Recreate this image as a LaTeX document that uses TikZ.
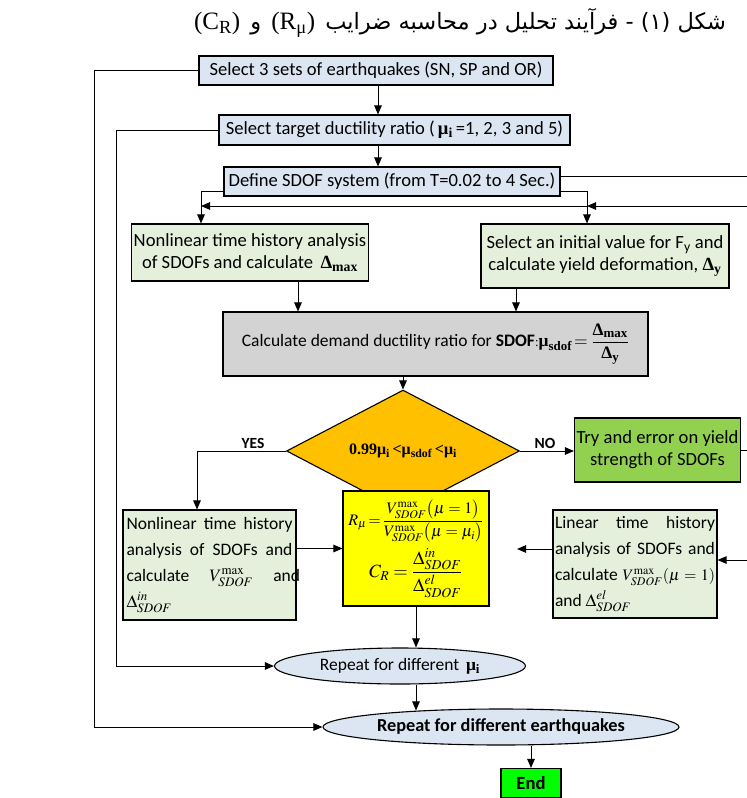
\documentclass[tikz,border=0pt]{standalone}
\usepackage{amsmath}
\usepackage{mathptmx}
\usepackage[no-math]{fontspec}
\setmainfont{Carlito}
\newfontfamily\tnr{Liberation Serif}
\newfontfamily\arabicfont[Script=Arabic]{DejaVu Sans}
\TeXXeTstate=1
\usetikzlibrary{shapes.geometric,arrows.meta,calc}
\definecolor{cblue}{HTML}{DCE6F2}
\definecolor{cgreen}{HTML}{E4EFDC}
\definecolor{cgray}{HTML}{D3D3D3}
\definecolor{corange}{HTML}{FFC000}
\definecolor{ctry}{HTML}{92D050}
\definecolor{cyel}{HTML}{FFFF00}
\definecolor{cend}{HTML}{00FF00}
\newcommand\bmu[1]{{\tnr\bfseries μ\textsubscript{#1}}}
\newcommand\dmax{{\tnr\bfseries Δ\textsubscript{max}}}
\newcommand\dyy{{\tnr\bfseries Δ\textsubscript{y}}}
\begin{document}
\begin{tikzpicture}[x=1pt,y=-1pt,
  box/.style={draw=black, line width=1.1pt, inner sep=2pt, align=center,
    font=\fontsize{18.6}{22}\selectfont},
  bluebox/.style={box, fill=cblue},
  greenbox/.style={box, fill=cgreen},
  ell/.style={ellipse, draw=black, line width=1.1pt, fill=cblue, inner sep=0pt,
    font=\fontsize{18.3}{22}\selectfont},
  dia/.style={diamond, draw=black, line width=1.1pt, fill=corange, inner sep=0pt,
    minimum width=233, minimum height=57},
  arr/.style={line width=1pt, -{Triangle[length=9pt,width=7.5pt]}},
  ln/.style={line width=1pt},
  lbl/.style={inner sep=1pt, font=\fontsize{15.5}{18}\selectfont\bfseries}]
\useasboundingbox (0,0) rectangle (747,798);
% title
\node (title) at (460,23) {\fontsize{22.5}{26}\selectfont
  {\tnr\fontsize{25}{27}\selectfont (C\textsubscript{R})}\ \ {\arabicfont\beginR و\endR}\ \ {\tnr\fontsize{25}{27}\selectfont (R\textsubscript{μ})}\ \ {\arabicfont\beginR شکل \beginL(۱)\endL{} - فرآیند تحلیل در محاسبه ضرایب\endR}};
% nodes
\node[bluebox, minimum width=354, minimum height=29] (b1) at (376,70.5) {Select 3 sets of earthquakes (SN, SP and OR)};
\node[bluebox, minimum width=351, minimum height=30] (b2) at (394.5,130) {Select target ductility ratio (\,\bmu{i}\,=1, 2, 3 and 5)};
\node[bluebox, minimum width=336, minimum height=29] (b3) at (392,181.5) {Define SDOF system (from T=0.02 to 4 Sec.)};
\node[greenbox, minimum width=234, minimum height=57] (n1) at (250,252.5) {Nonlinear time history analysis\\ of SDOFs and calculate \,\dmax};
\node[greenbox, minimum width=248, minimum height=64] (s1) at (605,256) {Select an initial value for F\textsubscript{y} and\\ calculate yield deformation, \dyy};
\node[box, fill=cgray, minimum width=425, minimum height=64, font=\fontsize{17.5}{21}\selectfont] (calc) at (435.5,344) {Calculate demand ductility ratio for \textbf{SDOF}{\tnr\fontsize{13}{15}\selectfont :}\bmu{sdof}$\,=\dfrac{\mbox{\dmax}}{\mbox{\dyy}}$};
\node[dia] (dia) at (403,451) {\tnr\bfseries\fontsize{16}{18}\selectfont 0.99μ\textsubscript{i}\,<μ\textsubscript{sdof}\,<μ\textsubscript{i}};
\node[box, fill=ctry, minimum width=165, minimum height=64] (try) at (657.5,450) {Try and error on yield\\ strength of SDOFs};
\node[greenbox, minimum width=173, minimum height=110, inner sep=0pt] (n2) at (209.5,565) {\fontsize{17.5}{26}\selectfont\parbox{166pt}{%
  \makebox[166pt][s]{Nonlinear time history}\\
  \makebox[166pt][s]{analysis of SDOFs and}\\
  \makebox[166pt][s]{calculate \quad $V_{SDOF}^{\max}$ \quad and}\\
  $\Delta_{SDOF}^{in}$}};
\node[box, fill=cyel, minimum width=146, minimum height=115, inner sep=0pt] (yel) at (416,548.5) {\fontsize{16}{19}\selectfont
  $R_\mu\mkern-2mu=\mkern-2mu\dfrac{V_{SDOF}^{\max}\bigl(\mu=1\bigr)}{V_{SDOF}^{\max}\bigl(\mu=\mu_i\bigr)}$\\[5pt]
  $C_R=\dfrac{\Delta_{SDOF}^{in}}{\Delta_{SDOF}^{el}}$};
\node[greenbox, minimum width=164, minimum height=108, inner sep=0pt] (lin) at (635,564) {\fontsize{17.5}{26}\selectfont\parbox{160pt}{%
  \makebox[160pt][s]{Linear time history}\\
  \makebox[160pt][s]{analysis of SDOFs and}\\
  \makebox[160pt][s]{calculate {\fontsize{16}{20}\selectfont$V_{SDOF}^{\max}(\mu=1)$}}\\
  and $\Delta_{SDOF}^{el}$}};
\node[ell, minimum width=251, minimum height=36, font=\fontsize{17.5}{21}\selectfont] (e1) at (400,666) {Repeat for different \,\bmu{i}};
\node[ell, minimum width=356, minimum height=36] (e2) at (501,727) {\bfseries Repeat for different earthquakes};
\node[box, fill=cend, minimum width=60, minimum height=29] (end) at (531,783) {\bfseries End};
% labels
\node[lbl, anchor=south] (yes) at (253,450) {YES};
\node[lbl, anchor=south] (no) at (545,450) {NO};
% helper coordinates
\coordinate (xL) at (201,0);
\coordinate (xR) at (587,0);
\coordinate (xA) at (298,0);
\coordinate (xB) at (516,0);
\coordinate (xY) at (197,0);
\coordinate (x1) at (94,0);
\coordinate (x2) at (116,0);
\coordinate (xm) at (378,0);
\coordinate (r1) at (747,176);
\coordinate (r2) at (747,206);
\coordinate (r3) at (747,450);
\coordinate (r4) at (747,560);
\coordinate (a1) at (517,549);
% connectors
\draw[arr] (b1.west) -- (b1.west -| x1) |- (e2.west);
\draw[arr] (b2.west) -- (b2.west -| x2) |- (e1.west);
\draw[arr] (b1.south -| xm) -- (b2.north -| xm);
\draw[arr] (b2.south -| xm) -- (b3.north -| xm);
\draw[arr] ([yshift=5pt]b3.south west) -| (n1.north -| xL);
\draw[arr] ([yshift=5pt]b3.south east) -| (s1.north -| xR);
\draw[ln] (b3.east |- r1) -- (r1);
\draw[arr] (r2) -- (r2 -| xR);
\draw[arr] (r2 -| xR) -- (r2 -| xL);
\draw[arr] (n1.south -| xA) -- (calc.north -| xA);
\draw[arr] (s1.south -| xB) -- (calc.north -| xB);
\draw[arr] (calc.south -| dia.north) -- (dia.north);
\draw[arr] (dia.west) -| (n2.north -| xY);
\draw[arr] (dia.east) -- (dia.east -| try.west);
\draw[ln] (try.east) -- (try.east -| r3);
\draw[arr] (n2.east |- yel.west) -- (yel.west);
\draw[arr] (lin.west |- a1) -- (a1);
\draw[arr] (r4) -- (r4 -| lin.east);
\draw[arr] (yel.south) -- (yel.south |- e1.north);
\draw[arr] (e1.south -| yel.south) -- ($(e2.north -| yel.south)+(0,2)$);
\draw[arr] (e2.south -| end.north) -- (end.north);
\end{tikzpicture}
\end{document}
